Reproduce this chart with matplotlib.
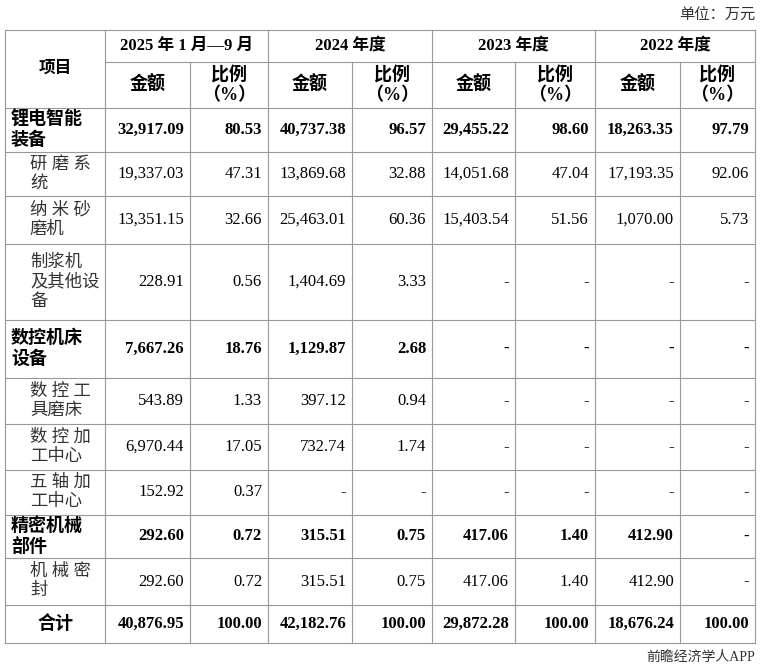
import matplotlib
matplotlib.use("Agg")
import matplotlib.pyplot as plt

plt.rcParams['font.family'] = ['Liberation Serif', 'Noto Sans CJK SC', 'DejaVu Sans']

periods = ["2025 年 1 月—9 月", "2024 年度", "2023 年度", "2022 年度"]
items = ["锂电智能\n装备", "研 磨 系\n统", "纳 米 砂\n磨机", "制浆机\n及其他设\n备", "数控机床\n设备",
         "数 控 工\n具磨床", "数 控 加\n工中心", "五 轴 加\n工中心", "精密机械\n部件", "机 械 密\n封", "合计"]
bold_rows = [True, False, False, False, True, False, False, False, True, False, True]
amounts = [
    ["32,917.09", "40,737.38", "29,455.22", "18,263.35"],
    ["19,337.03", "13,869.68", "14,051.68", "17,193.35"],
    ["13,351.15", "25,463.01", "15,403.54", "1,070.00"],
    ["228.91", "1,404.69", "-", "-"],
    ["7,667.26", "1,129.87", "-", "-"],
    ["543.89", "397.12", "-", "-"],
    ["6,970.44", "732.74", "-", "-"],
    ["152.92", "-", "-", "-"],
    ["292.60", "315.51", "417.06", "412.90"],
    ["292.60", "315.51", "417.06", "412.90"],
    ["40,876.95", "42,182.76", "29,872.28", "18,676.24"],
]
ratios = [
    ["80.53", "96.57", "98.60", "97.79"],
    ["47.31", "32.88", "47.04", "92.06"],
    ["32.66", "60.36", "51.56", "5.73"],
    ["0.56", "3.33", "-", "-"],
    ["18.76", "2.68", "-", "-"],
    ["1.33", "0.94", "-", "-"],
    ["17.05", "1.74", "-", "-"],
    ["0.37", "-", "-", "-"],
    ["0.72", "0.75", "1.40", "-"],
    ["0.72", "0.75", "1.40", "-"],
    ["100.00", "100.00", "100.00", "100.00"],
]

fig = plt.figure(figsize=(7.6, 6.7), dpi=100)
ax = fig.add_axes([0, 0, 1, 1])
ax.set_xlim(0, 760); ax.set_ylim(670, 0); ax.axis('off')

xs = [5, 105, 190, 268, 352, 432, 515, 595, 680, 755]
ys = [30, 62, 108, 152, 196, 244, 320, 378, 424, 470, 515, 558, 605, 643]
lc = '#999999'
for x in xs:
    if x in (190, 352, 515, 680):
        ax.plot([x, x], [ys[1], ys[-1]], color=lc, lw=0.8)
    else:
        ax.plot([x, x], [ys[0], ys[-1]], color=lc, lw=0.8)
for i, y in enumerate(ys):
    x0 = xs[1] if i == 1 else xs[0]
    ax.plot([x0, xs[-1]], [y, y], color=lc, lw=0.8)

ax.text(755, 16, "单位：万元", ha='right', va='center', fontsize=11, color='#333333')
ax.text(55, (ys[0] + ys[2]) / 2, "项目", ha='center', va='center', fontsize=12, fontweight='bold')
for k, p in enumerate(periods):
    xa, xb = xs[1 + 2 * k], xs[3 + 2 * k]
    ax.text((xa + xb) / 2, (ys[0] + ys[1]) / 2, p, ha='center', va='center', fontsize=12, fontweight='bold')
    ax.text((xs[1 + 2 * k] + xs[2 + 2 * k]) / 2, (ys[1] + ys[2]) / 2, "金额", ha='center', va='center', fontsize=13, fontweight='bold')
    ax.text((xs[2 + 2 * k] + xs[3 + 2 * k]) / 2, (ys[1] + ys[2]) / 2, "比例\n（%）", ha='center', va='center', fontsize=13, fontweight='bold', linespacing=1.2)

for r, name in enumerate(items):
    yc = (ys[2 + r] + ys[3 + r]) / 2
    fw = 'bold' if bold_rows[r] else 'normal'
    if r == len(items) - 1:
        ax.text(55, yc, name, ha='center', va='center', fontsize=13, fontweight='bold')
    elif bold_rows[r]:
        ax.text(11, yc, name, ha='left', va='center', fontsize=13, fontweight='bold', linespacing=1.25)
    else:
        ax.text(30, yc, name, ha='left', va='center', fontsize=12.5, color='#333333', linespacing=1.25)
    for k in range(4):
        ax.text(xs[2 + 2 * k] - 6, yc, amounts[r][k], ha='right', va='center', fontsize=12, fontweight=fw)
        ax.text(xs[3 + 2 * k] - 6, yc, ratios[r][k], ha='right', va='center', fontsize=12, fontweight=fw)

ax.text(755, 657, "前瞻经济学人APP", ha='right', va='center', fontsize=10, color='#333333')
fig.savefig("out.png", dpi=100)
